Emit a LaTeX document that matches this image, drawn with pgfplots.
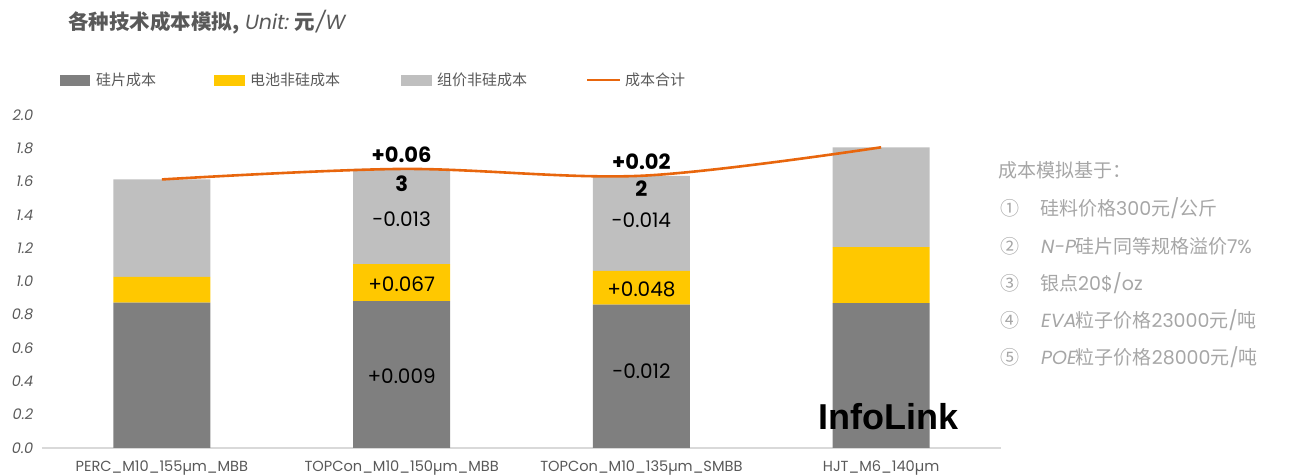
\documentclass[border=0pt]{standalone}
\usepackage{fontspec}
\usepackage{pgfplots}
\usepackage{pgfplotstable}
\pgfplotsset{compat=1.18}
\setmainfont{Noto Sans CJK SC}
\newfontfamily\lat{Poppins}
\newfontfamily\latit[FakeSlant=0.18]{Poppins}
\newfontfamily\logo{Liberation Sans}

\definecolor{si}{HTML}{7F7F7F}
\definecolor{cell}{HTML}{FFC800}
\definecolor{mod}{HTML}{BFBFBF}
\definecolor{tot}{HTML}{E8660D}
\definecolor{txt}{HTML}{595959}
\definecolor{note}{HTML}{A6A6A6}
\definecolor{baseline}{HTML}{D9D9D9}

% cost breakdown, yuan/W
\pgfplotstableread{
x si cell mod tot
0 0.873 0.155 0.585 1.613
1 0.882 0.222 0.572 1.676
2 0.861 0.203 0.571 1.635
3 0.870 0.336 0.600 1.806
}\costdata

\pgfplotsset{
  costframe/.style={
    scale only axis,
    width=959pt, height=333pt,
    xmin=-0.5, xmax=3.5, ymin=0, ymax=2,
  }
}
\newcommand\vlab{\lat\fontsize{20}{20}\selectfont}
\newcommand\tlab{\lat\bfseries\fontsize{21}{21}\selectfont}

\begin{document}
\begin{tikzpicture}[x=1pt,y=1pt]

\begin{axis}[costframe,
  ybar stacked, bar width=97pt,
  axis lines*=left,
  x axis line style={draw=baseline, line width=1.5pt, -},
  y axis line style={draw=none},
  xtick={0,1,2,3},
  xticklabels={PERC\_M10\_155µm\_MBB, TOPCon\_M10\_150µm\_MBB, TOPCon\_M10\_135µm\_SMBB, HJT\_M6\_140µm},
  ytick={0,0.2,0.4,0.6,0.8,1.0,1.2,1.4,1.6,1.8,2.0},
  major tick length=0pt,
  yticklabel style={font=\latit\fontsize{14.5}{14.5}\selectfont, text=txt, xshift=-6pt,
    /pgf/number format/assume math mode=true,
    /pgf/number format/fixed, /pgf/number format/fixed zerofill,
    /pgf/number format/precision=1},
  xticklabel style={font=\lat\fontsize{14.6}{15}\selectfont, text=txt, yshift=-9pt},
  clip=false,
]
\addplot[fill=si, draw=none] table[x=x, y=si] {\costdata};
\addplot[fill=cell, draw=none] table[x=x, y=cell] {\costdata};
\addplot[fill=mod, draw=none] table[x=x, y=mod] {\costdata};
\coordinate (O) at (rel axis cs:0,0);
\end{axis}

\begin{axis}[costframe, hide axis, clip=false]
\addplot[tot, line width=2.6pt, smooth, tension=0.55] table[x=x, y=tot] {\costdata};
% change versus PERC
\node[font=\vlab] at (axis cs:1,0.43) {+0.009};
\node[font=\vlab] at (axis cs:1,0.985) {+0.067};
\node[font=\vlab] at (axis cs:1,1.375) {-0.013};
\node[font=\vlab] at (axis cs:2,0.46) {-0.012};
\node[font=\vlab] at (axis cs:2,0.95) {+0.048};
\node[font=\vlab] at (axis cs:2,1.37) {-0.014};
\node[font=\tlab] at (axis cs:1,1.76) {+0.06};
\node[font=\tlab] at (axis cs:1,1.59) {3};
\node[font=\tlab] at (axis cs:2,1.72) {+0.02};
\node[font=\tlab] at (axis cs:2,1.56) {2};
\node[font=\logo\bfseries\fontsize{36}{36}\selectfont] at (axis cs:3.03,0.19) {InfoLink};
\end{axis}

\begin{scope}[shift={(O)}, xshift=-42pt, yshift=-28pt]
% title
\node[anchor=west, text=txt, font=\bfseries\fontsize{20.5}{21}\selectfont, inner sep=0pt] at (68,454)
  {各种技术成本模拟, {\latit\mdseries Unit:} 元{\latit\mdseries /W}};

% legend
\fill[si] (60,390) rectangle (90,401);
\node[anchor=west, text=txt, font=\fontsize{15}{15}\selectfont, inner sep=0pt] at (96,396) {硅片成本};
\fill[cell] (214,390) rectangle (245,401);
\node[anchor=west, text=txt, font=\fontsize{15}{15}\selectfont, inner sep=0pt] at (250,396) {电池非硅成本};
\fill[mod] (401,390) rectangle (432,401);
\node[anchor=west, text=txt, font=\fontsize{15}{15}\selectfont, inner sep=0pt] at (437,396) {组价非硅成本};
\draw[tot, line width=2.6pt] (587,396) -- (620,396);
\node[anchor=west, text=txt, font=\fontsize{15}{15}\selectfont, inner sep=0pt] at (625,396) {成本合计};

% assumptions
\begin{scope}[every node/.style={anchor=west, text=note, inner sep=0pt, font=\fontsize{19}{19}\selectfont}]
\node at (998,306) {成本模拟基于：};
\node at (1000,268) {①};
\node at (1040,268) {硅料价格{\lat 300}元{\lat /}公斤};
\node at (1000,230) {②};
\node at (1040,230) {{\latit N-P}硅片同等规格溢价{\lat 7\%}};
\node at (1000,193) {③};
\node at (1040,193) {银点{\lat 20\$/oz}};
\node at (1000,156) {④};
\node at (1040,156) {{\latit EVA}粒子价格{\lat 23000}元{\lat /}吨};
\node at (1000,119) {⑤};
\node at (1040,119) {{\latit POE}粒子价格{\lat 28000}元{\lat /}吨};
\end{scope}

\pgfresetboundingbox
\path[use as bounding box] (0,0) rectangle (1314,476);
\end{scope}
\end{tikzpicture}
\end{document}
